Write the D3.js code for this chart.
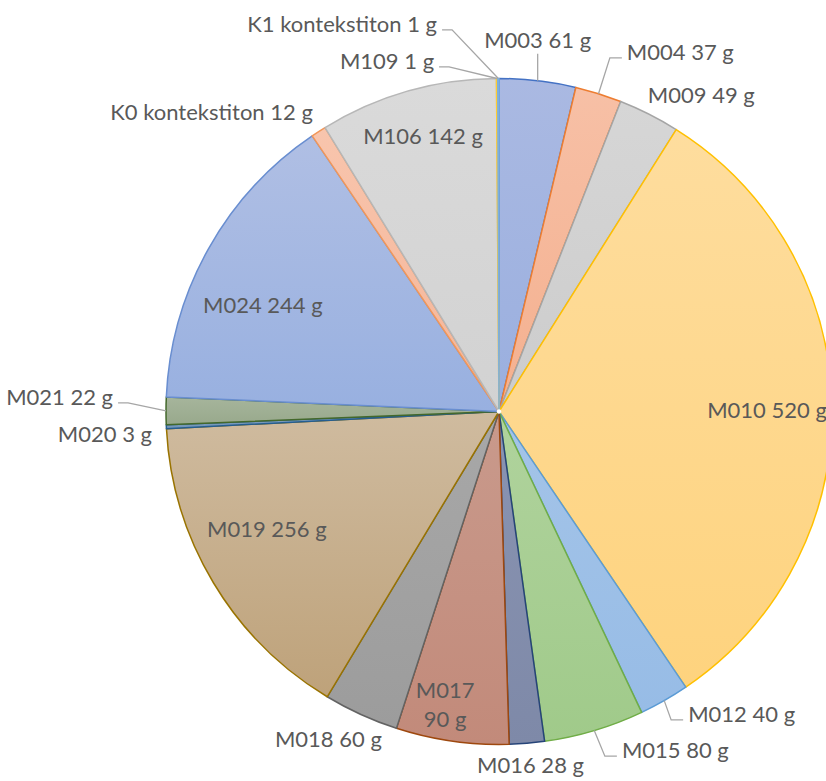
<!DOCTYPE html>
<html>
<head>
<meta charset="utf-8">
<script src="https://cdn.jsdelivr.net/npm/d3@7"></script>
<style>
  html, body { margin: 0; padding: 0; background: #ffffff; }
  svg { display: block; }
  text { font-family: Lato, "Open Sans", sans-serif; fill: #595959; }
</style>
</head>
<body>
<svg id="chart" width="826" height="781"></svg>
<script>
// ---- data ----
const categories = ["M003","M004","M009","M010","M012","M015","M016","M017","M018","M019","M020","M021","M024","K0 kontekstiton","M106","M109","K1 kontekstiton"];
const values     = [61, 37, 49, 520, 40, 80, 28, 90, 60, 256, 3, 22, 244, 12, 142, 1, 1];
const unit = "g";

// ---- styles ----
const strokeColors = ["#4472C4","#ED7D31","#A5A5A5","#FFC000","#5B9BD5","#70AD47","#264478","#9E480E","#636363","#997300","#255E91","#43682B","#698ED0","#F1975A","#B7B7B7","#FFCD33","#7CAFDD"];
const fillTop    = ["#aab9e2","#f7c0a6","#d6d6d6","#fedd9e","#a4c4e8","#b0d39d","#8a94b2","#c99a8c","#a8a8a8","#cfbb9f","#7f9fc0","#a6b59c","#b0bfe4","#f8c5ad","#dadada","#fee29c","#b5d2ee"];
const fillBottom = ["#9aafdf","#f4b08f","#cccccc","#fed37e","#97bce6","#a0ca8a","#7e89a8","#c28a7a","#9c9c9c","#bea27a","#7396b8","#98a98c","#98b0e0","#f5b598","#d2d2d2","#fede90","#a9cbea"];

// ---- label layout (relative to pie centre, in radius units) ----
const labelLayout = {
  "M003":            {x: 0.116,  y: -1.092, anchor: "middle", leader: "v"},
  "M004":            {x: 0.384,  y: -1.056, anchor: "start",  leader: "h"},
  "M009":            {x: 0.447,  y: -0.926, anchor: "start"},
  "M010":            {x: 0.625,  y: 0.020,  anchor: "start"},
  "M012":            {x: 0.568,  y: 0.932,  anchor: "start",  leader: "h"},
  "M015":            {x: 0.369,  y: 1.041,  anchor: "start",  leader: "h"},
  "M016":            {x: -0.066, y: 1.086,  anchor: "start"},
  "M017":            {x: -0.162, y: 0.860,  anchor: "middle", wrap: true},
  "M018":            {x: -0.673, y: 1.007,  anchor: "start"},
  "M019":            {x: -0.877, y: 0.377,  anchor: "start"},
  "M020":            {x: -1.042, y: 0.092,  anchor: "end"},
  "M021":            {x: -1.159, y: -0.020, anchor: "end",    leader: "h"},
  "M024":            {x: -0.889, y: -0.296, anchor: "start"},
  "K0 kontekstiton": {x: -0.559, y: -0.875, anchor: "end"},
  "M106":            {x: -0.408, y: -0.803, anchor: "start"},
  "M109":            {x: -0.195, y: -1.029, anchor: "end",    leader: "h"},
  "K1 kontekstiton": {x: -0.186, y: -1.140, anchor: "end",    leader: "h"}
};

const W = 826, H = 781;
const cx = 499, cy = 411.5, R = 333;
const fontSize = 22;

const svg = d3.select("#chart");
const defs = svg.append("defs");
const data = categories.map((c, i) => ({cat: c, value: values[i], i}));

const pie = d3.pie().value(d => d.value).sort(null).startAngle(0).endAngle(2 * Math.PI);
const arcs = pie(data);
const arc = d3.arc().innerRadius(0).outerRadius(R);
const edgeArc = d3.arc().innerRadius(R).outerRadius(R);

data.forEach((d, i) => {
  const g = defs.append("linearGradient").attr("id", "grad" + i)
    .attr("x1", 0).attr("y1", 0).attr("x2", 0).attr("y2", 1);
  g.append("stop").attr("offset", "0%").attr("stop-color", fillTop[i]);
  g.append("stop").attr("offset", "100%").attr("stop-color", fillBottom[i]);
});

const root = svg.append("g").attr("transform", `translate(${cx},${cy})`);

root.selectAll("path.slice").data(arcs).join("path")
  .attr("class", "slice")
  .attr("d", arc)
  .attr("fill", d => `url(#grad${d.data.i})`)
  .attr("stroke", d => strokeColors[d.data.i])
  .attr("stroke-width", 1.5)
  .attr("stroke-linejoin", "round");

root.append("circle").attr("r", 2.2).attr("fill", "#ffffff");

// labels
const labelG = root.append("g");
arcs.forEach(a => {
  const L = labelLayout[a.data.cat];
  const x = L.x * R, y = L.y * R;
  const t = labelG.append("text")
    .attr("x", x).attr("y", y)
    .attr("text-anchor", L.anchor)
    .style("font-size", fontSize + "px");
  if (L.wrap) {
    t.append("tspan").attr("x", x).attr("y", y).text(a.data.cat);
    t.append("tspan").attr("x", x).attr("y", y + 29).text(`${a.data.value} ${unit}`);
  } else {
    t.text(`${a.data.cat} ${a.data.value} ${unit}`);
  }
  if (L.leader) {
    const [ex, ey] = edgeArc.centroid(a);
    let pts;
    if (L.leader === "v") {
      pts = [[ex, y + 6], [ex, ey]];
    } else {
      const bb = t.node().getBBox();
      const ly = y - 2;
      if (L.anchor === "end") {
        const x0 = bb.x + bb.width + 5;
        pts = [[x0, ly], [x0 + 10, ly], [ex, ey]];
      } else {
        const x0 = bb.x - 5;
        pts = [[x0, ly], [x0 - 12, ly], [ex, ey]];
      }
    }
    root.append("path")
      .attr("d", d3.line()(pts))
      .attr("fill", "none")
      .attr("stroke", "#a6a6a6")
      .attr("stroke-width", 1.3);
  }
});
</script>
</body>
</html>
